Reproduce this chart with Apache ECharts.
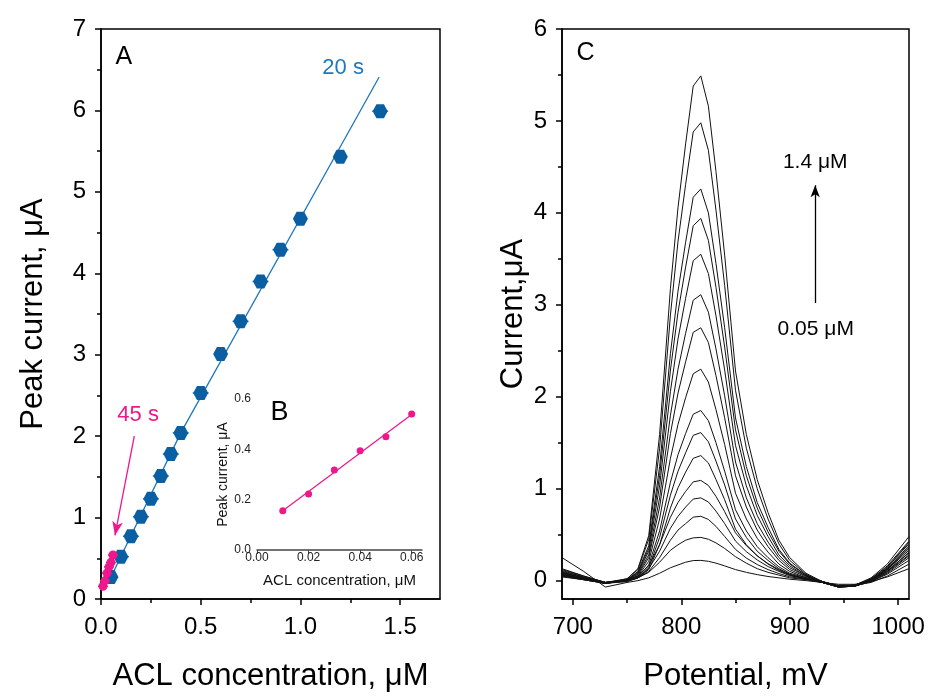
<!DOCTYPE html>
<html><head><meta charset="utf-8">
<script src="https://cdn.jsdelivr.net/npm/echarts@6/dist/echarts.min.js"></script>
<style>html,body{margin:0;padding:0;background:#fff}#c{width:931px;height:697px}</style>
</head><body><div id="c"></div><script>
// ---------- Panel A (20 s, blue) ----------
const concBlue = [0.05,0.1,0.15,0.2,0.25,0.3,0.35,0.4,0.5,0.6,0.7,0.8,0.9,1.0,1.2,1.4];
const peakBlue = [0.27,0.52,0.77,1.01,1.23,1.51,1.78,2.04,2.53,3.01,3.41,3.90,4.29,4.67,5.43,5.99];
const errBlue  = [0.03,0.04,0.04,0.04,0.04,0.04,0.04,0.04,0.04,0.03,0.04,0.04,0.04,0.03,0.03,0.04];
const fitBlueX = [0.05,0.4,1.395];
const fitBlueY = [0.27,2.04,6.41];
// ---------- Panel A / B (45 s, pink) ----------
const concPink = [0.01,0.02,0.03,0.04,0.05,0.06];
const peakPink = [0.156,0.223,0.318,0.394,0.450,0.540];
const errPink  = [0.025,0.025,0.025,0.025,0.025,0.025];
const fitPinkX = [0.01,0.06];
const fitPinkY = [0.156,0.538];
// ---------- tick labels ----------
const xTicksA = [0,0.5,1.0,1.5];
const xMinorA = [0.25,0.75,1.25];
const yTicksA = [0,1,2,3,4,5,6,7];
const yMinorA = [0.5,1.5,2.5,3.5,4.5,5.5,6.5];
const xTicksB = [0,0.02,0.04,0.06];
const yTicksB = [0,0.2,0.4,0.6];
const xTicksC = [700,800,900,1000];
const xMinorC = [750,850,950];
const yTicksC = [0,1,2,3,4,5,6];
const yMinorC = [0.5,1.5,2.5,3.5,4.5,5.5];
// ---------- Panel C (SWV curves) ----------
const potential = [690,710,730,750,760,770,780,790,797,804,811,818,825,832,840,850,860,870,880,890,900,915,930,945,960,975,990,1010];
const concC = ['0.05','0.1','0.15','0.2','0.25','0.3','0.35','0.4','0.5','0.6','0.7','0.8','0.9','1.0','1.2','1.4'];
const i01 = [0.25,0.10,-0.07,-0.02,0.00,0.03,0.08,0.14,0.17,0.20,0.218,0.22,0.21,0.19,0.16,0.12,0.09,0.065,0.045,0.03,0.015,0.00,-0.02,-0.04,-0.04,-0.01,0.04,0.13];
const i02 = [0.05,0.01,-0.03,0.00,0.03,0.09,0.20,0.33,0.39,0.44,0.465,0.47,0.45,0.41,0.35,0.26,0.19,0.13,0.09,0.06,0.03,0.01,-0.02,-0.05,-0.05,-0.02,0.05,0.18];
const i03 = [0.04,0.01,-0.03,0.00,0.03,0.10,0.25,0.44,0.55,0.62,0.69,0.70,0.665,0.59,0.48,0.34,0.245,0.175,0.12,0.077,0.042,0.014,-0.02,-0.06,-0.05,-0.01,0.07,0.22];
const i04 = [0.06,0.02,-0.03,0.01,0.04,0.13,0.32,0.57,0.70,0.80,0.887,0.90,0.855,0.756,0.62,0.43,0.315,0.225,0.153,0.10,0.054,0.018,-0.02,-0.06,-0.06,-0.01,0.08,0.25];
const i05 = [0.07,0.02,-0.03,0.01,0.05,0.16,0.39,0.69,0.85,0.97,1.074,1.09,1.035,0.916,0.75,0.52,0.38,0.27,0.185,0.12,0.065,0.02,-0.02,-0.06,-0.06,0.00,0.10,0.28];
const i06 = [0.08,0.03,-0.02,-0.01,0.03,0.12,0.39,0.79,1.01,1.18,1.33,1.36,1.28,1.10,0.88,0.56,0.39,0.27,0.18,0.11,0.06,0.02,-0.01,-0.06,-0.06,0.00,0.11,0.30];
const i07 = [0.05,0.01,-0.03,-0.01,0.03,0.14,0.47,0.93,1.19,1.39,1.58,1.61,1.51,1.30,1.04,0.67,0.47,0.32,0.22,0.13,0.07,0.02,-0.02,-0.07,-0.06,-0.01,0.09,0.27];
const i08 = [0.09,0.03,-0.02,0.00,0.04,0.17,0.54,1.07,1.37,1.60,1.81,1.85,1.74,1.50,1.19,0.77,0.54,0.37,0.25,0.15,0.08,0.03,-0.01,-0.06,-0.05,0.01,0.12,0.33];
const i09 = [0.06,0.02,-0.03,0.00,0.05,0.21,0.67,1.33,1.70,1.99,2.25,2.30,2.16,1.86,1.48,0.95,0.67,0.46,0.31,0.18,0.10,0.03,-0.02,-0.07,-0.06,0.00,0.10,0.31];
const i10 = [0.10,0.04,-0.02,0.00,0.06,0.25,0.80,1.60,2.04,2.38,2.70,2.75,2.59,2.23,1.77,1.14,0.80,0.55,0.37,0.22,0.12,0.04,-0.01,-0.06,-0.05,0.01,0.13,0.36];
const i11 = [0.07,0.02,-0.03,0.01,0.07,0.28,0.90,1.80,2.30,2.69,3.05,3.11,2.92,2.52,2.01,1.29,0.90,0.62,0.42,0.25,0.14,0.05,-0.02,-0.07,-0.06,0.00,0.12,0.35];
const i12 = [0.11,0.04,-0.02,0.01,0.08,0.32,1.03,2.06,2.63,3.07,3.48,3.55,3.34,2.88,2.29,1.47,1.03,0.71,0.48,0.28,0.16,0.05,-0.01,-0.06,-0.05,0.02,0.15,0.40];
const i13 = [0.08,0.03,-0.03,0.01,0.09,0.35,1.14,2.29,2.92,3.41,3.86,3.94,3.70,3.19,2.54,1.64,1.14,0.79,0.53,0.32,0.18,0.06,-0.02,-0.07,-0.06,0.01,0.13,0.38];
const i14 = [0.12,0.05,-0.02,0.01,0.10,0.38,1.24,2.47,3.15,3.68,4.17,4.26,4.00,3.45,2.75,1.77,1.24,0.85,0.58,0.34,0.19,0.06,-0.01,-0.06,-0.05,0.02,0.16,0.43];
const i15 = [0.09,0.03,-0.03,0.02,0.12,0.45,1.44,2.89,3.69,4.31,4.88,4.98,4.68,4.03,3.21,2.07,1.44,1.00,0.67,0.40,0.22,0.07,-0.02,-0.07,-0.06,0.01,0.14,0.42];
const i16 = [0.13,0.05,-0.02,0.02,0.13,0.49,1.59,3.18,4.06,4.75,5.38,5.49,5.16,4.45,3.54,2.28,1.59,1.10,0.74,0.44,0.25,0.08,-0.01,-0.06,-0.05,0.03,0.18,0.48];
const curvesC = [i01,i02,i03,i04,i05,i06,i07,i08,i09,i10,i11,i12,i13,i14,i15,i16];
// ---------- annotations (data coordinates) ----------
const arrowPink = [[0.167,2.0],[0.07,0.78]];
const arrowC = [[923.5,3.02],[923.5,4.30]];

const F = '"Liberation Sans", Arial, sans-serif';
const K = '#000';
const BLUE = '#0a5fa3', BLUE_L = '#1f78bd', PINK = '#f0168c';
const zip = (a,b) => a.map((v,i)=>[v,b[i]]);
const hex = 'path://M0,433 L250,0 L750,0 L1000,433 L750,866 L250,866 Z';

function mainX(grid, min, max, ticks, fmt, name, gap) {
  return {gridIndex:grid, type:'value', min, max, position:'bottom',
    axisLine:{show:true,onZero:false,lineStyle:{color:K,width:1.5}},
    axisTick:{show:true,customValues:ticks,length:6,lineStyle:{color:K,width:1.5}},
    axisLabel:{customValues:ticks,formatter:fmt,fontSize:24,fontFamily:F,color:K,margin:16},
    splitLine:{show:false},
    name, nameLocation:'middle', nameGap:gap, nameTextStyle:{fontSize:31,fontFamily:F,color:K}};
}
function mainY(grid, min, max, ticks, name, gap) {
  return {gridIndex:grid, type:'value', min, max, position:'left',
    axisLine:{show:true,onZero:false,lineStyle:{color:K,width:1.5}},
    axisTick:{show:true,customValues:ticks,length:6,lineStyle:{color:K,width:1.5}},
    axisLabel:{customValues:ticks,formatter:v=>String(v),fontSize:24,fontFamily:F,color:K,margin:15},
    splitLine:{show:false},
    name, nameLocation:'middle', nameGap:gap, nameTextStyle:{fontSize:31,fontFamily:F,color:K}};
}
function minor(grid, min, max, ticks, pos) {
  return {gridIndex:grid, type:'value', min, max, position:pos,
    axisLine:{show:false,onZero:false}, axisTick:{show:true,customValues:ticks,length:4,lineStyle:{color:K,width:1.5}},
    axisLabel:{show:false}, splitLine:{show:false}};
}

function errRender(color) {
  return function(params, api) {
    const x = api.value(0), y = api.value(1), e = api.value(2);
    const p1 = api.coord([x-e,y]), p2 = api.coord([x+e,y]);
    return {type:'line', shape:{x1:p1[0],y1:p1[1],x2:p2[0],y2:p2[1]}, style:{stroke:color,lineWidth:1.5}};
  };
}
function arrowLine(pts, color, w, h) {
  return {silent:true, symbol:'none', label:{show:false}, animation:false,
    lineStyle:{color:color,width:1.3,type:'solid',opacity:1},
    emphasis:{disabled:true},
    data:[[{coord:pts[0], symbol:'none'},{coord:pts[1], symbol:'arrow', symbolSize:[w,h]}]]};
}

const series = [
  {type:'line', xAxisIndex:0, yAxisIndex:0, data:zip(fitBlueX,fitBlueY), showSymbol:false,
   lineStyle:{color:BLUE_L,width:1.3}, z:2, silent:true},
  {type:'custom', xAxisIndex:0, yAxisIndex:0, renderItem:errRender(BLUE_L),
   data:concBlue.map((c,i)=>[c,peakBlue[i],errBlue[i]]), z:3, silent:true},
  {type:'scatter', xAxisIndex:0, yAxisIndex:0, data:zip(concBlue,peakBlue), symbol:hex,
   symbolSize:[15,14], itemStyle:{color:BLUE,opacity:1}, z:4, silent:true},
  {type:'line', xAxisIndex:0, yAxisIndex:0, data:zip(fitPinkX,fitPinkY), showSymbol:false,
   lineStyle:{color:PINK,width:1.3}, z:5, silent:true,
   markLine:arrowLine(arrowPink, PINK, 8, 14)},
  {type:'custom', xAxisIndex:0, yAxisIndex:0, renderItem:errRender(PINK),
   data:concPink.map((c,i)=>[c,peakPink[i],errPink[i]]), z:6, silent:true},
  {type:'scatter', xAxisIndex:0, yAxisIndex:0, data:zip(concPink,peakPink), symbol:'circle',
   symbolSize:9, itemStyle:{color:PINK,opacity:1}, z:7, silent:true},
  // inset B
  {type:'line', xAxisIndex:2, yAxisIndex:2, data:zip(fitPinkX,fitPinkY), showSymbol:false,
   lineStyle:{color:PINK,width:1.2}, z:5, silent:true},
  {type:'scatter', xAxisIndex:2, yAxisIndex:2, data:zip(concPink,peakPink), symbol:'circle',
   symbolSize:7, itemStyle:{color:PINK,opacity:1}, z:6, silent:true}
];
curvesC.forEach((arr,k)=>{
  const s = {type:'line', name:concC[k]+' µM', xAxisIndex:3, yAxisIndex:3, data:zip(potential,arr),
    showSymbol:false, lineStyle:{color:'#111',width:1}, z:3, silent:true};
  if (k===0) s.markLine = arrowLine(arrowC, K, 7, 12);
  series.push(s);
});

const option = {
  animation:false, backgroundColor:'#fff',
  grid:[
    {left:101, top:29, width:339, height:570, show:true, borderColor:K, borderWidth:1.5, backgroundColor:'transparent'},
    {left:257, top:399, width:165, height:151, show:false},
    {left:562, top:29, width:347, height:570, show:true, borderColor:K, borderWidth:1.5, backgroundColor:'transparent'}
  ],
  xAxis:[
    mainX(0, 0, 1.7, xTicksA, v=>v.toFixed(1), 'ACL concentration, μM', 62),
    minor(0, 0, 1.7, xMinorA, 'bottom'),
    {gridIndex:1, type:'value', min:0, max:0.064, position:'bottom',
     axisLine:{show:true,onZero:false,lineStyle:{color:'#444',width:1.5}},
     axisTick:{show:true,customValues:xTicksB,length:4,lineStyle:{color:'#444',width:1}},
     axisLabel:{customValues:xTicksB,formatter:v=>v.toFixed(2),fontSize:12,fontFamily:F,color:'#222',margin:2},
     splitLine:{show:false},
     name:'ACL concentration, μM', nameLocation:'middle', nameGap:23, nameTextStyle:{fontSize:15,fontFamily:F,color:'#111'}},
    mainX(2, 690, 1010, xTicksC, v=>String(v), 'Potential, mV', 62),
    minor(2, 690, 1010, xMinorC, 'bottom')
  ],
  yAxis:[
    mainY(0, 0, 7, yTicksA, 'Peak current, μA', 52),
    minor(0, 0, 7, yMinorA, 'left'),
    {gridIndex:1, type:'value', min:0, max:0.6, position:'left',
     axisLine:{show:false,onZero:false}, axisTick:{show:false},
     axisLabel:{customValues:yTicksB,formatter:v=>v.toFixed(1),fontSize:12,fontFamily:F,color:'#222',margin:6},
     splitLine:{show:false},
     name:'Peak current, μA', nameLocation:'middle', nameGap:21, nameTextStyle:{fontSize:14,fontFamily:F,color:'#111'}},
    mainY(2, -0.2, 6, yTicksC, 'Current,μA', 33),
    minor(2, -0.2, 6, yMinorC, 'left')
  ],
  series
};

const chart = echarts.init(document.getElementById('c'));
chart.setOption(option);

const texts = [
  {s:2, p:[0.115,6.66], t:'A', size:25, c:K},
  {s:2, p:[1.214,6.525], t:'20 s', size:22, c:BLUE_L},
  {s:2, p:[0.186,2.257], t:'45 s', size:22, c:PINK},
  {s:7, p:[0.0087,0.545], t:'B', size:27, c:K},
  {s:8, p:[700+(585-572.3)/1.086, 5.74], t:'C', size:25, c:K},
  {s:8, p:[923.5,4.55], t:'1.4 μM', size:21, c:K},
  {s:8, p:[924,2.73], t:'0.05 μM', size:21, c:K}
];
chart.setOption({graphic: texts.map(o=>{
  const q = chart.convertToPixel({seriesIndex:o.s}, o.p);
  return {type:'text', x:q[0], y:q[1], silent:true,
    style:{text:o.t, fontSize:o.size, fontFamily:F, fill:o.c, align:'center', verticalAlign:'middle'}};
})});
</script></body></html>
